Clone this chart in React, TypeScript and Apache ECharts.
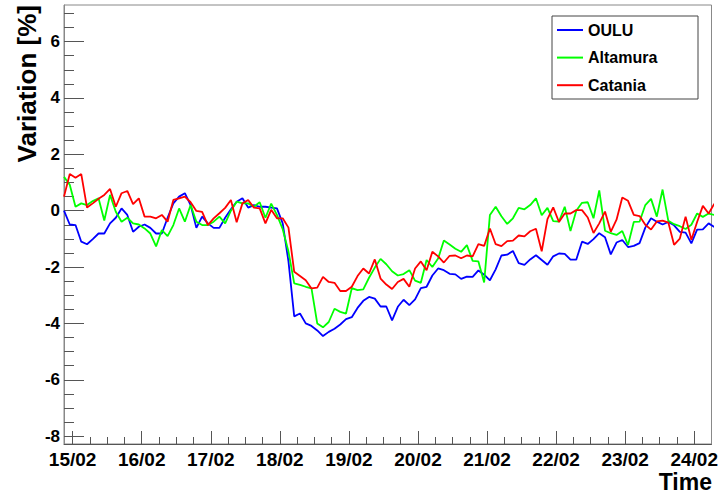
import React, { useEffect, useRef } from "react";
import * as echarts from "echarts";

// Time grid: one point every 2 hours, hours relative to 15/02 00:00
const START_HOUR = -3;
const STEP_HOURS = 2;

const OULU = [
  0.0, -0.49, -0.51, -1.1, -1.19, -1.01, -0.81, -0.81, -0.45, -0.25,
  0.08, -0.15, -0.75, -0.57, -0.49, -0.61, -0.81, -0.81, -0.25, 0.26,
  0.5, 0.62, 0.2, -0.61, -0.21, -0.45, -0.61, -0.61, -0.25, 0.05,
  0.32, 0.44, 0.11, 0.2, 0.14, 0.14, 0.11, 0.08, -0.45, -1.8,
  -3.75, -3.65, -4.0, -4.09, -4.25, -4.45, -4.3, -4.19, -4.04, -3.85,
  -3.78, -3.45, -3.2, -3.06, -3.12, -3.4, -3.4, -3.89, -3.41, -3.16,
  -3.35, -3.15, -2.75, -2.7, -2.3, -2.05, -2.11, -2.24, -2.26, -2.42,
  -2.34, -2.35, -2.12, -2.27, -2.47, -2.08, -1.59, -1.56, -1.43, -1.86,
  -1.92, -1.73, -1.58, -1.75, -1.92, -1.62, -1.52, -1.53, -1.74, -1.74,
  -1.1, -1.18, -1.01, -0.8, -0.94, -1.55, -1.13, -1.04, -1.29, -1.25,
  -1.15, -0.6, -0.27, -0.39, -0.49, -0.4, -0.52, -0.75, -0.78, -1.16,
  -0.67, -0.66, -0.45, -0.58,
];

const ALTAMURA = [
  1.2, 0.92, 0.14, 0.26, 0.2, 0.34, 0.44, -0.35, 0.56, -0.04,
  -0.39, -0.25, -0.45, -0.49, -0.63, -0.81, -1.27, -0.69, -0.9, -0.51,
  0.08, -0.39, 0.2, -0.39, -0.51, -0.51, -0.39, -0.21, -0.45, 0.0,
  0.32, 0.26, 0.26, 0.14, 0.3, -0.25, 0.25, -0.15, -0.66, -1.45,
  -2.58, -2.63, -2.7, -2.76, -4.0, -4.14, -3.95, -3.48, -3.59, -3.65,
  -2.75, -2.82, -2.79, -2.38, -2.02, -1.71, -1.9, -2.15, -2.3, -2.25,
  -2.11, -2.48, -2.56, -1.75, -2.0, -1.7, -1.06, -1.2, -1.35, -1.46,
  -1.22, -1.78, -1.8, -2.55, -0.15, 0.14, -0.2, -0.47, -0.27, 0.1,
  0.05, 0.2, 0.44, -0.16, 0.1, -0.37, -0.39, 0.14, -0.72, 0.0,
  0.28, 0.3, -0.27, 0.72, -0.71, -0.8, -0.86, -0.72, -1.22, -0.4,
  -0.39, 0.2, 0.42, -0.21, 0.75, -0.36, -0.48, -0.55, -0.65, -0.5,
  -0.1, -0.22, -0.1, -0.15,
];

const CATANIA = [
  0.5, 1.3, 1.17, 1.3, 0.11, 0.26, 0.42, 0.56, 0.77, 0.14,
  0.62, 0.7, 0.23, 0.44, -0.21, -0.21, -0.27, -0.15, -0.39, 0.38,
  0.44, 0.5, 0.3, -0.01, -0.04, -0.51, -0.27, -0.09, 0.1, 0.38,
  -0.41, 0.26, 0.38, 0.11, 0.08, -0.45, 0.03, -0.27, -0.27, -0.6,
  -2.17, -2.32, -2.47, -2.76, -2.73, -2.35, -2.53, -2.56, -2.85, -2.85,
  -2.7, -2.32, -2.05, -2.23, -1.73, -2.41, -2.62, -2.78, -2.53, -2.42,
  -2.7, -2.05, -1.8, -2.11, -1.46, -1.62, -1.84, -1.6, -1.59, -1.69,
  -1.59, -1.62, -1.19, -1.25, -0.63, -1.19, -1.26, -1.08, -1.06, -0.88,
  -0.91, -0.73, -0.64, -1.44, -0.3, 0.12, -0.4, -0.1, -0.1, 0.02,
  0.02, -0.24, -0.79, -0.45, -0.03, -0.75, -0.32, 0.47, 0.35, -0.15,
  -0.19, -0.5, -0.67, -0.38, -0.35, -0.42, -1.21, -0.99, -0.21, -1.03,
  -0.4, 0.17, -0.1, 0.25,
];

const SERIES_NAMES = ["OULU", "Altamura", "Catania"];
const SERIES_COLORS = ["#0000ff", "#00ff00", "#ff0000"];

const X_MAJOR = [0, 24, 48, 72, 96, 120, 144, 168, 192, 216];
const X_MINOR = [
  6, 12, 18, 30, 36, 42, 54, 60, 66, 78, 84, 90, 102, 108, 114, 126, 132, 138,
  150, 156, 162, 174, 180, 186, 198, 204, 210,
];
const X_LABELS = ["15/02", "16/02", "17/02", "18/02", "19/02", "20/02", "21/02", "22/02", "23/02", "24/02"];
const Y_MAJOR = [-8, -6, -4, -2, 0, 2, 4, 6];
const Y_MINOR = [-7.5, -7, -6.5, -5.5, -5, -4.5, -3.5, -3, -2.5, -1.5, -1, -0.5, 0.5, 1, 1.5, 2.5, 3, 3.5, 4.5, 5, 5.5, 6.5, 7];

const X_MIN = -3;
const X_MAX = 222;
const Y_MIN = -8.28;
const Y_MAX = 7.3;

const FONT = "'Liberation Sans', Arial, Helvetica, sans-serif";

function toPairs(values: number[]) {
  return values.map((v, i) => [START_HOUR + STEP_HOURS * i, v]);
}

export default function App() {
  const ref = useRef<HTMLDivElement>(null);

  useEffect(() => {
    if (!ref.current) return;
    const chart = echarts.init(ref.current, undefined, { renderer: "svg" });
    const allValues = [OULU, ALTAMURA, CATANIA];
    const tickColor = "#555";

    const option: any = {
      animation: false,
      backgroundColor: "#ffffff",
      grid: {
        left: 64,
        top: 5,
        right: 8,
        bottom: 51,
        show: true,
        borderColor: "#888",
        borderWidth: 1,
        containLabel: false,
      },
      legend: {
        orient: "vertical",
        left: 557,
        top: 22,
        padding: 0,
        icon: "rect",
        itemWidth: 26,
        itemHeight: 2,
        itemGap: 11.6,
        data: SERIES_NAMES,
        textStyle: { fontFamily: FONT, fontWeight: "bold", fontSize: 16, color: "#000" },
      },
      graphic: [
        {
          type: "rect",
          z: 1,
          shape: { x: 552, y: 16, width: 146, height: 83 },
          style: { fill: "#fff", stroke: "#444", lineWidth: 1 },
        },
        {
          type: "text",
          x: 27,
          y: 5,
          rotation: Math.PI / 2,
          style: {
            text: "Variation [%]",
            fontFamily: FONT,
            fontWeight: "bold",
            fontSize: 26,
            fill: "#000",
            align: "right",
            verticalAlign: "middle",
          },
        },
        {
          type: "text",
          x: 712,
          y: 482,
          style: {
            text: "Time",
            fontFamily: FONT,
            fontWeight: "bold",
            fontSize: 23,
            fill: "#000",
            align: "right",
            verticalAlign: "middle",
          },
        },
      ],
      xAxis: [
        {
          type: "value",
          min: X_MIN,
          max: X_MAX,
          position: "bottom",
          splitLine: { show: false },
          axisLine: { show: true, onZero: false, lineStyle: { color: tickColor, width: 1 } },
          axisTick: {
            show: true,
            inside: true,
            length: 13,
            customValues: X_MAJOR,
            lineStyle: { color: tickColor, width: 1 },
          },
          axisLabel: {
            show: true,
            customValues: X_MAJOR,
            formatter: (v: number) => X_LABELS[X_MAJOR.indexOf(Math.round(v))] ?? "",
            fontFamily: FONT,
            fontWeight: "bold",
            fontSize: 19,
            color: "#000",
            margin: 6,
          },
        },
        {
          type: "value",
          min: X_MIN,
          max: X_MAX,
          position: "bottom",
          splitLine: { show: false },
          axisLine: { show: false, onZero: false },
          axisTick: {
            show: true,
            inside: true,
            length: 7,
            customValues: X_MINOR,
            lineStyle: { color: tickColor, width: 1 },
          },
          axisLabel: { show: false },
        },
      ],
      yAxis: [
        {
          type: "value",
          min: Y_MIN,
          max: Y_MAX,
          position: "left",
          splitLine: { show: false },
          axisLine: { show: true, onZero: false, lineStyle: { color: "#888", width: 1 } },
          axisTick: {
            show: true,
            inside: true,
            length: 20,
            customValues: Y_MAJOR,
            lineStyle: { color: tickColor, width: 1 },
          },
          axisLabel: {
            show: true,
            customValues: Y_MAJOR,
            formatter: (v: number) => String(Math.round(v)),
            fontFamily: FONT,
            fontWeight: "bold",
            fontSize: 17,
            color: "#000",
            margin: 4,
          },
        },
        {
          type: "value",
          min: Y_MIN,
          max: Y_MAX,
          position: "left",
          splitLine: { show: false },
          axisLine: { show: false, onZero: false },
          axisTick: {
            show: true,
            inside: true,
            length: 10,
            customValues: Y_MINOR,
            lineStyle: { color: tickColor, width: 1 },
          },
          axisLabel: { show: false },
        },
      ],
      series: SERIES_NAMES.map((name, i) => ({
        name,
        type: "line",
        xAxisIndex: 0,
        yAxisIndex: 0,
        data: toPairs(allValues[i]),
        symbol: "none",
        showSymbol: false,
        clip: true,
        z: 2 + i,
        lineStyle: { color: SERIES_COLORS[i], width: 1.8 },
        itemStyle: { color: SERIES_COLORS[i] },
      })),
    };

    chart.setOption(option);
    return () => chart.dispose();
  }, []);

  return (
    <div
      ref={ref}
      style={{ position: "absolute", left: 0, top: 0, width: 721, height: 495 }}
    />
  );
}
